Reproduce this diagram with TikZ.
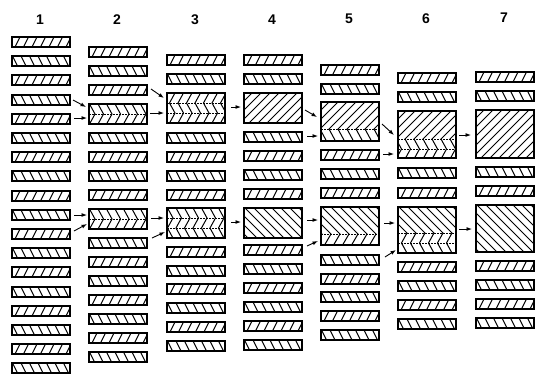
\documentclass[tikz,border=0pt]{standalone}
\usepackage{fontspec}
\newfontfamily\labfont{Liberation Sans}
\usetikzlibrary{calc,arrows.meta}
\tikzset{
  lay/.style={draw, line width=1.3pt, inner sep=0pt, outer sep=0pt, minimum width=58pt, minimum height=10pt, anchor=north west},
  hl/.style={line width=1pt},
  hatch/.style 2 args={path picture={\foreach \i in {-8,...,16}{\draw[hl] ([xshift=\i*#1]path picture bounding box.north west) ++(0,-1) #2;}}},
  sf/.style={lay, hatch={8.5}{-- ++(-6,12)}},
  sb/.style={lay, hatch={8.5}{-- ++(6,12)}},
  blk/.style={lay, minimum height=#1},
  dl/.style={line width=0.6pt, dash pattern=on 1.5pt off 1.5pt},
  arr/.style={line width=0.9pt, -{Latex[length=5.5pt,width=4pt]}},
  num/.style={font=\labfont\bfseries\fontsize{14}{16}\selectfont}
}
\begin{document}
\begin{tikzpicture}[x=1pt,y=-1pt]
\useasboundingbox (0,0) rectangle (539,373);
% column numbers
\node[num] (n1) at (40,20) {1};
\node[num] (n2) at (117,20) {2};
\node[num] (n3) at (195,20) {3};
\node[num] (n4) at (272,20) {4};
\node[num] (n5) at (349,18.5) {5};
\node[num] (n6) at (426,18.5) {6};
\node[num] (n7) at (504,18) {7};
% column 1
\foreach \k in {1,...,18}{
  \pgfmathsetmacro\yy{round(37+(\k-1)*19.2)}
  \ifodd\k
    \node[sf] (c1s\k) at (12,\yy) {};
  \else
    \node[sb] (c1s\k) at (12,\yy) {};
  \fi
}
% column 2
\node[sf] (c2s1) at (89,47) {};
\node[sb] (c2s2) at (89,66) {};
\node[sf] (c2s3) at (89,85) {};
\node[blk=20pt, hatch={8.5}{-- ++(6,11) -- ++(-6,11)}] (c2b1) at (89,104) {};
\node[sb] (c2s6) at (89,133) {};
\node[sf] (c2s7) at (89,152) {};
\node[sb] (c2s8) at (89,171) {};
\node[sf] (c2s9) at (89,190) {};
\node[blk=20pt, hatch={8.5}{-- ++(6,11) -- ++(-6,11)}] (c2b2) at (89,209) {};
\node[sb] (c2s12) at (89,238) {};
\node[sf] (c2s13) at (89,257) {};
\node[sb] (c2s14) at (89,276) {};
\node[sf] (c2s15) at (89,295) {};
\node[sb] (c2s16) at (89,314) {};
\node[sf] (c2s17) at (89,333) {};
\node[sb] (c2s18) at (89,352) {};
% column 3
\node[sf] (c3s1) at (167,55) {};
\node[sb] (c3s2) at (167,74) {};
\node[blk=30pt, hatch={8.5}{-- ++(-6,11) -- ++(5.5,10) -- ++(-6,11)}] (c3b1) at (167,93) {};
\node[sb] (c3s6) at (167,133) {};
\node[sf] (c3s7) at (167,152) {};
\node[sb] (c3s8) at (167,171) {};
\node[sf] (c3s9) at (167,190) {};
\node[blk=30pt, hatch={8.5}{-- ++(6,11) -- ++(-5.5,10) -- ++(6,11)}] (c3b2) at (167,208) {};
\node[sf] (c3s13) at (167,247) {};
\node[sb] (c3s14) at (167,266) {};
\node[sf] (c3s15) at (167,284) {};
\node[sb] (c3s16) at (167,303) {};
\node[sf] (c3s17) at (167,322) {};
\node[sb] (c3s18) at (167,341) {};
% column 4
\node[sf] (c4s1) at (244,55) {};
\node[sb] (c4s2) at (244,74) {};
\node[blk=30pt, hatch={9}{-- ++(-34,34)}] (c4b1) at (244,93) {};
\node[sb] (c4s6) at (244,132) {};
\node[sf] (c4s7) at (244,151) {};
\node[sb] (c4s8) at (244,170) {};
\node[sf] (c4s9) at (244,189) {};
\node[blk=30pt, hatch={9}{-- ++(34,34)}] (c4b2) at (244,208) {};
\node[sf] (c4s13) at (244,245) {};
\node[sb] (c4s14) at (244,264) {};
\node[sf] (c4s15) at (244,283) {};
\node[sb] (c4s16) at (244,302) {};
\node[sf] (c4s17) at (244,321) {};
\node[sb] (c4s18) at (244,340) {};
% column 5
\node[sf] (c5s1) at (321,65) {};
\node[sb] (c5s2) at (321,84) {};
\node[blk=39pt, hatch={9}{-- ++(-28,28) -- ++(7,13)}] (c5b1) at (321,102) {};
\node[sf] (c5s7) at (321,150) {};
\node[sb] (c5s8) at (321,169) {};
\node[sf] (c5s9) at (321,188) {};
\node[blk=38pt, hatch={9}{-- ++(28,28) -- ++(-7,12)}] (c5b2) at (321,207) {};
\node[sb] (c5s14) at (321,255) {};
\node[sf] (c5s15) at (321,274) {};
\node[sb] (c5s16) at (321,292) {};
\node[sf] (c5s17) at (321,311) {};
\node[sb] (c5s18) at (321,330) {};
% column 6
\node[sf] (c6s1) at (398,73) {};
\node[sb] (c6s2) at (398,92) {};
\node[blk=47pt, hatch={9}{-- ++(-29,29) -- ++(5.5,10) -- ++(-6,11)}] (c6b1) at (398,111) {};
\node[sb] (c6s8) at (398,168) {};
\node[sf] (c6s9) at (398,188) {};
\node[blk=46pt, hatch={9}{-- ++(27,27) -- ++(-5.5,10) -- ++(6,11)}] (c6b2) at (398,207) {};
\node[sf] (c6s15) at (398,262) {};
\node[sb] (c6s16) at (398,281) {};
\node[sf] (c6s17) at (398,300) {};
\node[sb] (c6s18) at (398,319) {};
% column 7
\node[sf] (c7s1) at (476,72) {};
\node[sb] (c7s2) at (476,91) {};
\node[blk=48pt, hatch={9}{-- ++(-52,52)}] (c7b1) at (476,110) {};
\node[sb] (c7s8) at (476,167) {};
\node[sf] (c7s9) at (476,186) {};
\node[blk=47pt, hatch={9}{-- ++(52,52)}] (c7b2) at (476,205) {};
\node[sf] (c7s15) at (476,261) {};
\node[sb] (c7s16) at (476,280) {};
\node[sf] (c7s17) at (476,299) {};
\node[sb] (c7s18) at (476,318) {};
% dashed boundaries
\foreach \b/\d in {c2b1/10, c2b2/10, c3b1/10, c3b1/20, c3b2/10, c3b2/20, c5b1/27, c5b2/27, c6b1/28, c6b1/38, c6b2/26, c6b2/36}{
  \draw[dl] ($(\b.north west)+(0,\d)$) -- ($(\b.north east)+(0,\d)$);
}
% arrows 1 -> 2
\draw[arr] ($(c1s4.east)+(3,0)$) -- ($(c2b1.north west)+(-3,3)$);
\draw[arr] ($(c1s5.east)+(4,-1)$) -- ($(c2b1.west)+(-2,4)$);
\draw[arr] ($(c1s10.east)+(4,0)$) -- ($(c2b2.west)+(-2,-4)$);
\draw[arr] ($(c1s11.east)+(4,-3)$) -- ($(c2b2.south west)+(-2,-5)$);
% arrows 2 -> 3
\draw[arr] ($(c2s3.east)+(4,-1)$) -- ($(c3b1.north west)+(-3,5)$);
\draw[arr] ($(c2b1.east)+(3,-1)$) -- ($(c3b1.west)+(-3,5)$);
\draw[arr] ($(c2b2.east)+(4,-1)$) -- ($(c3b2.west)+(-3,-5)$);
\draw[arr] ($(c2s12.east)+(5,-5)$) -- ($(c3b2.south west)+(-2,-6)$);
% arrows 3 -> 4
\draw[arr] ($(c3b1.east)+(6,-1)$) -- ($(c4b1.west)+(-3,-1)$);
\draw[arr] ($(c3b2.east)+(6,-1)$) -- ($(c4b2.west)+(-3,-1)$);
% arrows 4 -> 5
\draw[arr] ($(c4b1.east)+(3,2)$) -- ($(c5b1.north west)+(-4,15)$);
\draw[arr] ($(c4s6.east)+(5,-1)$) -- ($(c5b1.south west)+(-3,-5)$);
\draw[arr] ($(c4b2.east)+(5,-3)$) -- ($(c5b2.north west)+(-3,13)$);
\draw[arr] ($(c4s13.east)+(5,-4)$) -- ($(c5b2.south west)+(-3,-4)$);
% arrows 5 -> 6
\draw[arr] ($(c5b1.north east)+(3,22)$) -- ($(c6b1.north west)+(-4,24)$);
\draw[arr] ($(c5s7.east)+(4,-1)$) -- ($(c6b1.south west)+(-4,-4)$);
\draw[arr] ($(c5b2.north east)+(5,16)$) -- ($(c6b2.north west)+(-3,16)$);
\draw[arr] ($(c5s14.east)+(6,-3)$) -- ($(c6b2.south west)+(-2,-3)$);
% arrows 6 -> 7
\draw[arr] ($(c6b1.north east)+(3,24)$) -- ($(c7b1.north west)+(-5,25)$);
\draw[arr] ($(c6b2.north east)+(3,22)$) -- ($(c7b2.north west)+(-4,24)$);
\end{tikzpicture}
\end{document}
